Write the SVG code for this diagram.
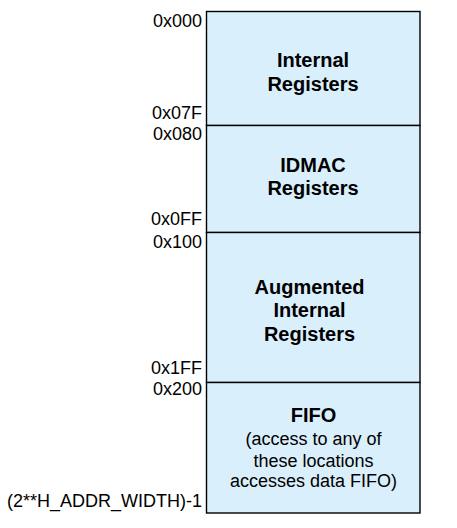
<svg xmlns="http://www.w3.org/2000/svg" width="457" height="528" viewBox="0 0 457 528">
  <style>
    .region { fill: #d9effc; stroke: #000; stroke-width: 1.4; }
    .addr { font-family: "Liberation Sans", Arial, sans-serif; font-size: 18px; fill: #000; text-anchor: end; }
    .title { font-family: "Liberation Sans", Arial, sans-serif; font-size: 20px; font-weight: bold; fill: #000; text-anchor: middle; }
    .note { font-family: "Liberation Sans", Arial, sans-serif; font-size: 18px; fill: #000; text-anchor: middle; }
  </style>
  <rect width="457" height="528" fill="#fff"/>

  <!-- Address map regions -->
  <g id="internal-registers">
    <rect class="region" x="206.5" y="11.5" width="213.5" height="114"/>
    <text class="title" x="313" y="66.5">Internal</text>
    <text class="title" x="313" y="91">Registers</text>
  </g>
  <g id="idmac-registers">
    <rect class="region" x="206.5" y="125.5" width="213.5" height="107"/>
    <text class="title" x="313" y="171.5">IDMAC</text>
    <text class="title" x="313" y="195">Registers</text>
  </g>
  <g id="augmented-registers">
    <rect class="region" x="206.5" y="232.5" width="213.5" height="150"/>
    <text class="title" x="309.5" y="293.5">Augmented</text>
    <text class="title" x="309.5" y="317">Internal</text>
    <text class="title" x="309.5" y="340.5">Registers</text>
  </g>
  <g id="fifo">
    <rect class="region" x="206.5" y="382.5" width="213.5" height="130.5"/>
    <text class="title" x="313.5" y="421.5">FIFO</text>
    <text class="note" x="313.5" y="445">(access to any of</text>
    <text class="note" x="313.5" y="466.5">these locations</text>
    <text class="note" x="313.5" y="487">accesses data FIFO)</text>
  </g>

  <!-- Address labels -->
  <g id="addresses">
    <text class="addr" x="202" y="27">0x000</text>
    <text class="addr" x="202" y="118.5">0x07F</text>
    <text class="addr" x="202" y="140">0x080</text>
    <text class="addr" x="202" y="225">0x0FF</text>
    <text class="addr" x="202" y="247.5">0x100</text>
    <text class="addr" x="202" y="374">0x1FF</text>
    <text class="addr" x="202" y="395">0x200</text>
    <text class="addr" x="202" y="507">(2**H_ADDR_WIDTH)-1</text>
  </g>
</svg>
